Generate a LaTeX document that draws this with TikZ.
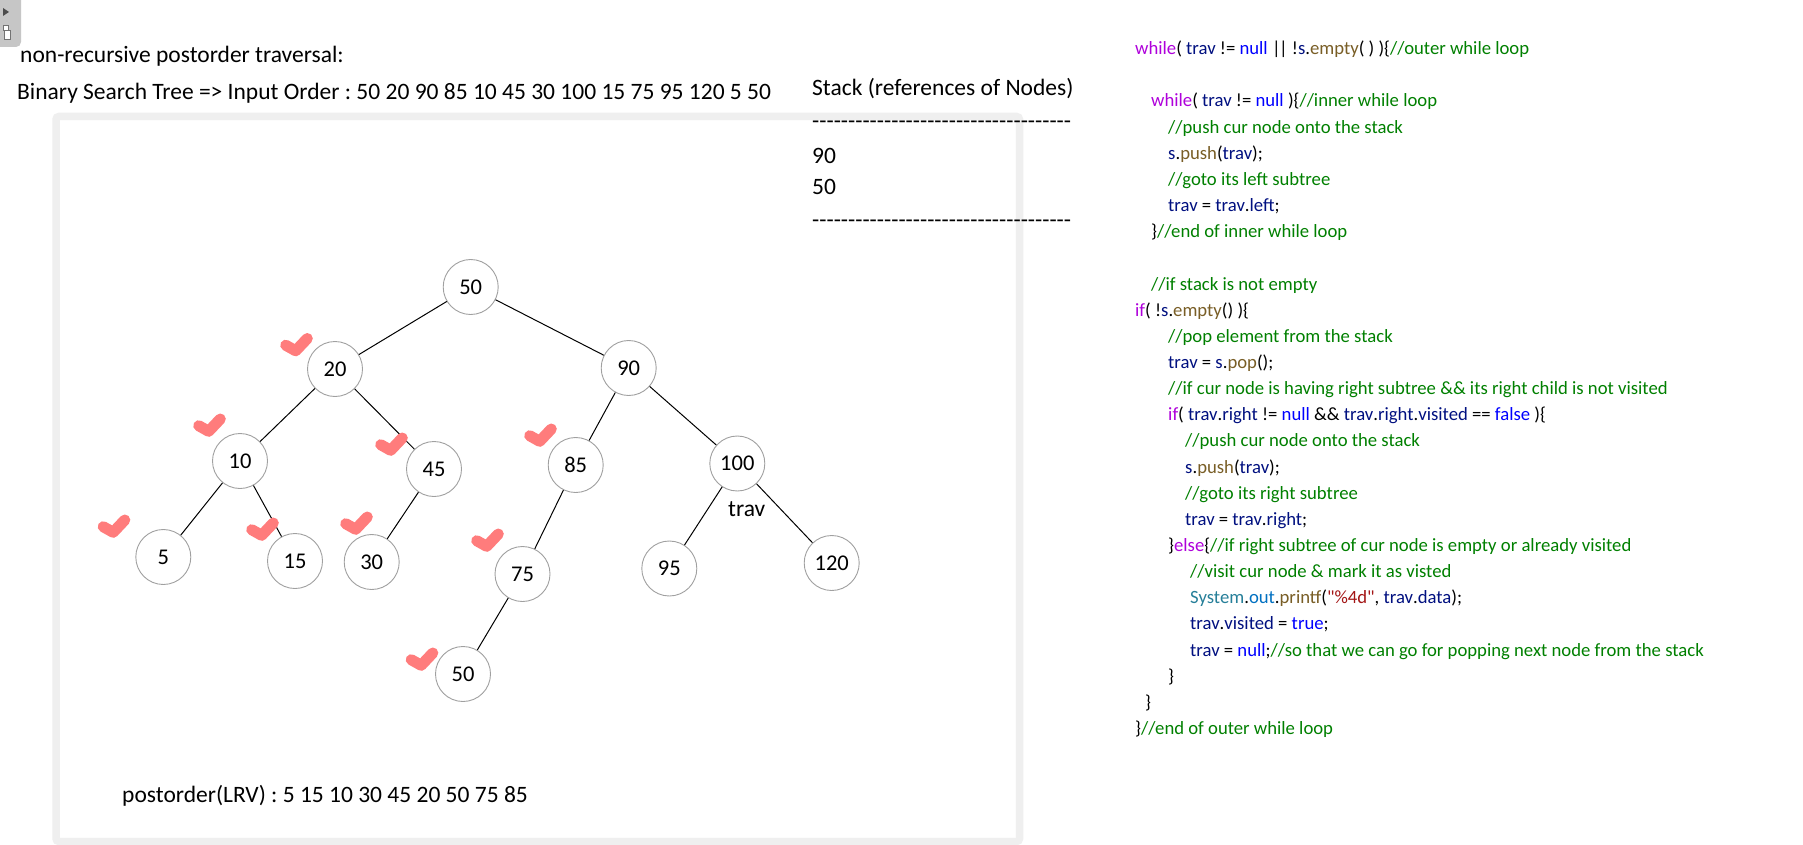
\documentclass[tikz,border=0pt]{standalone}
\usepackage{fontspec}
\setmainfont{Carlito}
\setmonofont{Carlito}
\frenchspacing
\definecolor{kwc}{HTML}{AF00DB}
\definecolor{vrc}{HTML}{001080}
\definecolor{fnc}{HTML}{795E26}
\definecolor{cnc}{HTML}{0000FF}
\definecolor{cmc}{HTML}{008000}
\definecolor{stc}{HTML}{A31515}
\definecolor{clc}{HTML}{267F99}
\definecolor{outc}{HTML}{0070C1}
\definecolor{panelc}{HTML}{EFEFEF}
\definecolor{circc}{HTML}{A0A0A0}
\definecolor{chkc}{HTML}{FF7C7C}
\definecolor{iconc}{HTML}{C6C6C6}
\newcommand\Kw[1]{\textcolor{kwc}{#1}}
\newcommand\Vr[1]{\textcolor{vrc}{#1}}
\newcommand\Fn[1]{\textcolor{fnc}{#1}}
\newcommand\Cn[1]{\textcolor{cnc}{#1}}
\newcommand\Cm[1]{\textcolor{cmc}{#1}}
\newcommand\Str[1]{\textcolor{stc}{#1}}
\newcommand\Cls[1]{\textcolor{clc}{#1}}
\newcommand\Outc[1]{\textcolor{outc}{#1}}
\newcommand\Hy{-\kern0pt}
\newcommand\DashRow{\Hy\Hy\Hy\Hy\Hy\Hy\Hy\Hy\Hy\Hy\Hy\Hy\Hy\Hy\Hy\Hy\Hy\Hy\Hy\Hy\Hy\Hy\Hy\Hy\Hy\Hy\Hy\Hy\Hy\Hy\Hy\Hy\Hy\Hy\Hy\Hy}
\tikzset{
  tnode/.style={circle, draw=circc, line width=0.9pt, minimum size=55pt, inner sep=0pt, font=\fontsize{22.5}{26}\selectfont},
  edge/.style={line width=1pt, black},
  chk/.style={line width=11pt, line cap=round, line join=round, draw=chkc},
  chkmark/.pic={\draw[chk] (-10.3,-0.3) -- (-0.3,5.3) -- (11.3,-7);},
  txt/.style={anchor=west, inner sep=0pt, font=\fontsize{23.5}{28}\selectfont, text height=17.4pt, text depth=5.9pt},
  code/.style={anchor=west, inner sep=0pt, font=\ttfamily\fontsize{18.7}{22}\selectfont, text height=14pt, text depth=4.65pt},
}
\begin{document}
\begin{tikzpicture}[x=1pt,y=-1pt]
\useasboundingbox (0,0) rectangle (1803,845);
\fill[white] (0,0) rectangle (1803,845);
% top-left icon
\fill[iconc, rounded corners=5pt] (-8,-8) rectangle (21,47);
\fill[black!70] (3,8) -- (9,12) -- (3,16) -- cycle;
\draw[black!55, fill=white, line width=0.6pt] (3,25) rectangle (8.5,30.5);
\draw[black!55, fill=white, line width=0.6pt] (4,30.5) rectangle (10.5,39);
% panel
\draw[line width=7.5pt, draw=panelc, rounded corners=3pt] (56,116.5) rectangle (1019.5,841.5);
% header texts
\node[txt] (title) at (20,57) {non-recursive postorder traversal:};
\node[txt] (input) at (17,94) {Binary Search Tree => Input Order : 50 20 90 85 10 45 30 100 15 75 95 120 5 50};
% stack
\node[txt] (stk) at (812,90) {Stack (references of Nodes)};
\node[txt] (d1) at (812,123) {\DashRow};
\node[txt] (s90) at (812,157.5) {90};
\node[txt] (s50) at (812,189) {50};
\node[txt] (d2) at (812,222) {\DashRow};
% tree nodes
\node[tnode] (n50) at (470.7,287) {50};
\node[tnode] (n20) at (335,369) {20};
\node[tnode] (n90) at (628.7,368) {90};
\node[tnode] (n10) at (240,461) {10};
\node[tnode] (n45) at (434,469) {45};
\node[tnode] (n85) at (575.7,465) {85};
\node[tnode] (n100) at (737.3,463.5) {100};
\node[tnode] (n5) at (163.3,557) {5};
\node[tnode] (n15) at (295,561) {15};
\node[tnode] (n30) at (371.7,562) {30};
\node[tnode] (n75) at (522.5,574) {75};
\node[tnode] (n95) at (669.3,568.5) {95};
\node[tnode] (n120) at (831.7,563) {120};
\node[tnode] (n50b) at (463,674) {50};
\draw[edge] (n50) -- (n20);
\draw[edge] (n50) -- (n90);
\draw[edge] (n20) -- (n10);
\draw[edge] (n20) -- (n45);
\draw[edge] (n10) -- (n5);
\draw[edge] (n10) -- (n15);
\draw[edge] (n45) -- (n30);
\draw[edge] (n90) -- (n85);
\draw[edge] (n90) -- (n100);
\draw[edge] (n85) -- (n75);
\draw[edge] (n75) -- (n50b);
\draw[edge] (n100) -- (n95);
\draw[edge] (n100) -- (n120);
\node[font=\fontsize{23.5}{28}\selectfont, inner sep=0pt] (trav) at (746.7,509) {trav};
% check marks
\pic at (296,345.5) {chkmark};
\pic at (209,426) {chkmark};
\pic at (391,445) {chkmark};
\pic at (113.5,527) {chkmark};
\pic at (262,530) {chkmark};
\pic at (356,524) {chkmark};
\pic at (487,541) {chkmark};
\pic at (540,436) {chkmark};
\pic at (421.5,660) {chkmark};
% bottom text
\node[txt] (post) at (122,797) {postorder(LRV) : 5 15 10 30 45 20 50 75 85};
% code
\node[code] (c0) at (1135,50) {\Kw{while}( \Vr{trav} != \Cn{null} |\kern-1.5pt| !\Vr{s}.\Fn{empty}( ) )\{\Cm{//outer while loop}};
\node[code] (c2) at (1151,102.3) {\Kw{while}( \Vr{trav} != \Cn{null} )\{\Cm{//inner while loop}};
\node[code] (c3) at (1168,128.5) {\Cm{//push cur node onto the stack}};
\node[code] (c4) at (1168,154.6) {\Vr{s}.\Fn{push}(\Vr{trav});};
\node[code] (c5) at (1168,180.8) {\Cm{//goto its left subtree}};
\node[code] (c6) at (1168,206.9) {\Vr{trav} = \Vr{trav}.\Vr{left};};
\node[code] (c7) at (1151,233.1) {\}\Cm{//end of inner while loop}};
\node[code] (c9) at (1151,285.4) {\Cm{//if stack is not empty}};
\node[code] (c10) at (1135,311.5) {\Kw{if}( !\Vr{s}.\Fn{empty}() )\{};
\node[code] (c11) at (1168,337.7) {\Cm{//pop element from the stack}};
\node[code] (c12) at (1168,363.8) {\Vr{trav} = \Vr{s}.\Fn{pop}();};
\node[code] (c13) at (1168,390) {\Cm{//if cur node is having right subtree \&\& its right child is not visited}};
\node[code] (c14) at (1168,416.1) {\Kw{if}( \Vr{trav}.\Vr{right} != \Cn{null} \&\& \Vr{trav}.\Vr{right}.\Vr{visited} == \Cn{false} )\{};
\node[code] (c15) at (1185,442.3) {\Cm{//push cur node onto the stack}};
\node[code] (c16) at (1185,468.4) {\Vr{s}.\Fn{push}(\Vr{trav});};
\node[code] (c17) at (1185,494.6) {\Cm{//goto its right subtree}};
\node[code] (c18) at (1185,520.7) {\Vr{trav} = \Vr{trav}.\Vr{right};};
\node[code] (c19) at (1168,546.9) {\}\Kw{else}\{\Cm{//if right subtree of cur node is empty or already visited}};
\node[code] (c20) at (1190,573) {\Cm{//visit cur node \& mark it as visted}};
\node[code] (c21) at (1190,599.2) {\Cls{System}.\Outc{out}.\Fn{printf}(\Str{"\%4d"}, \Vr{trav}.\Vr{data});};
\node[code] (c22) at (1190,625.3) {\Vr{trav}.\Vr{visited} = \Cn{true};};
\node[code] (c23) at (1190,651.5) {\Vr{trav} = \Cn{null};\Cm{//so that we can go for popping next node from the stack}};
\node[code] (c24) at (1168,677.6) {\}};
\node[code] (c25) at (1145,703.8) {\}};
\node[code] (c26) at (1135,729.9) {\}\Cm{//end of outer while loop}};
\end{tikzpicture}
\end{document}
